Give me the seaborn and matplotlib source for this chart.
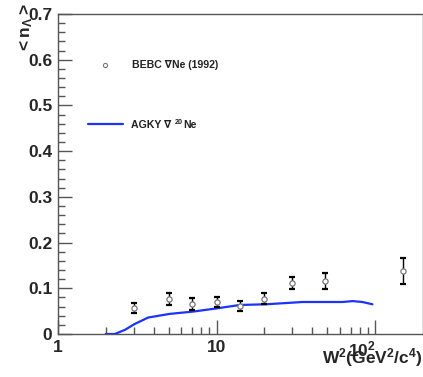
import matplotlib
matplotlib.use("Agg")
import matplotlib.pyplot as plt
import seaborn as sns
import numpy as np
import pandas as pd
from matplotlib.ticker import FixedLocator, NullFormatter, MultipleLocator, FuncFormatter
from matplotlib.lines import Line2D

# data: BEBC points
w2_data = [3.0, 5.0, 7.0, 10.0, 14.0, 20.0, 30.0, 48.0, 150.0]
n_data = [0.056, 0.077, 0.065, 0.069, 0.061, 0.077, 0.111, 0.116, 0.138]
n_err = [0.011, 0.013, 0.013, 0.011, 0.011, 0.012, 0.013, 0.017, 0.028]

# AGKY curve
w2_curve = [2.0, 2.28, 2.64, 3.05, 3.7, 5.06, 7.1, 10.0, 14.0, 20.5, 34.9, 62.3, 72.0, 83.0, 96.0]
n_curve = [0.0, 0.0, 0.009, 0.022, 0.036, 0.044, 0.049, 0.056, 0.0635, 0.065, 0.070, 0.070, 0.072, 0.070, 0.065]

sns.set_style("white")
plt.rcParams['font.family'] = ['Liberation Sans', 'DejaVu Sans']
plt.rcParams['mathtext.fontset'] = 'custom'
plt.rcParams['mathtext.rm'] = 'Liberation Sans'
plt.rcParams['mathtext.bf'] = 'Liberation Sans:bold'
plt.rcParams['mathtext.it'] = 'Liberation Sans:italic'

fig = plt.figure(figsize=(4.23, 3.77), dpi=100)
ax = fig.add_axes([58/423, 43/377, 365/423, 320/377])

df = pd.DataFrame({"w2": w2_curve, "n": n_curve})
sns.lineplot(data=df, x="w2", y="n", ax=ax, color="#1a33ff", lw=1.6, zorder=3)

ax.errorbar(w2_data, n_data, yerr=n_err, fmt='none', ecolor='black', elinewidth=1.0,
            capsize=2, capthick=1.6, zorder=4)
sns.scatterplot(x=w2_data, y=n_data, ax=ax, marker='o', s=14, facecolor='white',
                edgecolor='#777777', linewidth=0.9, zorder=5)

ax.set_xscale('log')
ax.set_xlim(1, 200)
ax.set_ylim(0, 0.7)

ax.xaxis.set_major_locator(FixedLocator([1, 10, 100]))
minors = [m * 10**e for e in range(0, 3) for m in range(2, 10) if m * 10**e < 200]
ax.xaxis.set_minor_locator(FixedLocator(minors))
ax.xaxis.set_minor_formatter(NullFormatter())
def xfmt(v, p):
    if abs(v - 100) < 1e-6:
        return "$\\mathbf{10^2}$"
    return "%d" % v
ax.xaxis.set_major_formatter(FuncFormatter(xfmt))

ax.yaxis.set_major_locator(MultipleLocator(0.1))
ax.yaxis.set_minor_locator(MultipleLocator(0.02))
ax.yaxis.set_major_formatter(FuncFormatter(lambda v, p: "0" if abs(v) < 1e-9 else "%.1f" % v))

ax.tick_params(bottom=True, left=True, top=False, right=False, which='both')
ax.tick_params(axis='both', which='major', direction='in', length=10, width=1.0, color='#555555',
               labelsize=12.5, pad=4)
ax.tick_params(axis='both', which='minor', direction='in', length=5, width=1.0, color='#555555')
fig.canvas.draw()
for lab in ax.get_xticklabels() + ax.get_yticklabels():
    lab.set_fontweight('bold')
for lab in ax.get_xticklabels():
    if "10^2" in lab.get_text():
        lab.set_horizontalalignment('right')

for s in ['left', 'bottom', 'top', 'right']:
    ax.spines[s].set_color('#555555')
    ax.spines[s].set_linewidth(1.0)

ax.set_xlabel("")
ax.set_ylabel("")
fig.text(0.998, 0.022, "$\\mathbf{W^{2}(GeV^{2}/c^{4})}$", ha='right', va='bottom',
         fontsize=12.5)
fig.text(26/423, 1 - 3/377, "$\\mathbf{{<}n_{\\Lambda}{>}}$", ha='center', va='top', rotation=90,
         fontsize=12.5)

# legend-like entries
fig.text(132/423, 1 - 65/377, "BEBC \u2207Ne (1992)", ha='left', va='center', fontsize=7.6,
         fontweight='bold', color='#222222')
fig.text(131/423, 1 - 125/377, "AGKY \u2207", ha='left', va='center', fontsize=7.6,
         fontweight='bold', color='#222222')
fig.text(175/423, 1 - 122/377, "20", ha='left', va='center', fontsize=5.2,
         fontweight='bold', color='#222222')
fig.text(183/423, 1 - 125/377, "Ne", ha='left', va='center', fontsize=7.6,
         fontweight='bold', color='#222222')
fig.add_artist(Line2D([88/423, 123/423], [1 - 124/377, 1 - 124/377], color="#1a33ff", lw=1.6))
fig.add_artist(Line2D([105/423], [1 - 65/377], marker='o', markersize=3, markerfacecolor='white',
                      markeredgecolor='#777777', markeredgewidth=0.8, linestyle='none'))

fig.savefig("out.png", dpi=100)
